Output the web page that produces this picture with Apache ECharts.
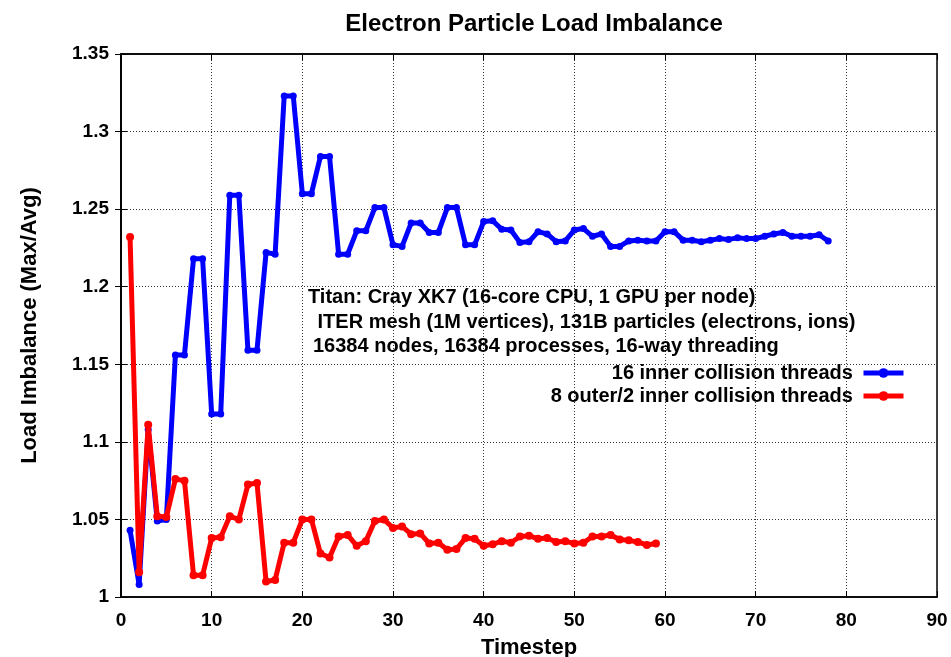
<!DOCTYPE html>
<html>
<head>
<meta charset="utf-8">
<script src="https://cdn.jsdelivr.net/npm/echarts@6/dist/echarts.min.js"></script>
<style>
html,body{margin:0;padding:0;background:#fff;}
#chart{width:951px;height:657px;}
</style>
</head>
<body>
<div id="chart"></div>
<script>
var titleText = 'Electron Particle Load Imbalance';
var xAxisName = 'Timestep';
var yAxisName = 'Load Imbalance (Max/Avg)';
var infoLines = [
  'Titan: Cray XK7 (16-core CPU, 1 GPU per node)',
  ' ITER mesh (1M vertices), 131B particles (electrons, ions)',
  '16384 nodes, 16384 processes, 16-way threading'
];
var seriesNames = ['16 inner collision threads', '8 outer/2 inner collision threads'];

var blueSteps = [1,2,3,4,5,6,7,8,9,10,11,12,13,14,15,16,17,18,19,20,21,22,23,24,25,26,27,28,29,30,31,32,33,34,35,36,37,38,39,40,41,42,43,44,45,46,47,48,49,50,51,52,53,54,55,56,57,58,59,60,61,62,63,64,65,66,67,68,69,70,71,72,73,74,75,76,77,78];
var blueValues = [1.043,1.008,1.108,1.049,1.050,1.156,1.156,1.218,1.218,1.118,1.118,1.259,1.259,1.159,1.159,1.222,1.221,1.323,1.323,1.260,1.260,1.284,1.284,1.221,1.221,1.236,1.236,1.251,1.251,1.227,1.226,1.241,1.241,1.235,1.235,1.251,1.251,1.227,1.227,1.242,1.2425,1.237,1.2365,1.2285,1.229,1.2355,1.234,1.229,1.2295,1.2365,1.2375,1.2325,1.234,1.226,1.226,1.2295,1.230,1.2295,1.2295,1.2355,1.2355,1.230,1.230,1.229,1.230,1.231,1.2305,1.2315,1.231,1.231,1.2325,1.234,1.235,1.2325,1.2325,1.2325,1.2335,1.2295];

var redSteps = [1,2,3,4,5,6,7,8,9,10,11,12,13,14,15,16,17,18,19,20,21,22,23,24,25,26,27,28,29,30,31,32,33,34,35,36,37,38,39,40,41,42,43,44,45,46,47,48,49,50,51,52,53,54,55,56,57,58,59];
var redValues = [1.232,1.016,1.111,1.052,1.0515,1.076,1.075,1.014,1.014,1.038,1.0385,1.052,1.050,1.0725,1.0735,1.010,1.011,1.035,1.035,1.050,1.050,1.028,1.0255,1.039,1.040,1.033,1.036,1.049,1.050,1.0445,1.0455,1.0405,1.041,1.0345,1.035,1.0305,1.031,1.038,1.0375,1.033,1.034,1.036,1.035,1.039,1.0395,1.0375,1.038,1.0355,1.036,1.0345,1.035,1.039,1.039,1.040,1.037,1.0365,1.0355,1.0335,1.0345];

function pairs(xs, ys){ return xs.map(function(x,i){ return [x, ys[i]]; }); }

var FONT = '"Liberation Sans", Arial, Helvetica, sans-serif';
var chart = echarts.init(document.getElementById('chart'), null, {renderer:'canvas'});

var gridLine = {show:true, lineStyle:{color:'#333', width:1, type:[1,2]}};
var legendText = {fontFamily:FONT, fontWeight:'bold', fontSize:20, color:'#000'};
var legendFmt = function(n){ return n + ' '; };

chart.setOption({
  animation:false,
  backgroundColor:'#fff',
  title:{
    text:titleText, left:529, top:7, textAlign:'center',
    textStyle:{fontFamily:FONT, fontWeight:'bold', fontSize:24, color:'#000'}
  },
  grid:{left:121, right:14, top:54, bottom:60, show:true, borderColor:'#000', borderWidth:1.5,
        backgroundColor:'transparent', containLabel:false, outerBoundsMode:'none'},
  legend:[
    {data:[seriesNames[0]], orient:'vertical', align:'right', right:45, top:363, itemWidth:40, itemHeight:12, itemGap:0, textStyle:legendText, padding:0, formatter:legendFmt, lineStyle:{width:5}, itemStyle:{borderWidth:0}},
    {data:[seriesNames[1]], orient:'vertical', align:'right', right:45, top:386, itemWidth:40, itemHeight:12, itemGap:0, textStyle:legendText, padding:0, formatter:legendFmt, lineStyle:{width:5}, itemStyle:{borderWidth:0}}
  ],
  xAxis:[
    {type:'value', min:0, max:90, interval:10, position:'bottom',
     name:xAxisName, nameLocation:'middle', nameGap:40,
     nameTextStyle:{fontFamily:FONT, fontWeight:'bold', fontSize:22, color:'#000'},
     axisLine:{show:true, lineStyle:{color:'#000', width:1.5}},
     axisTick:{show:true, inside:true, length:6, lineStyle:{color:'#000'}},
     axisLabel:{fontFamily:FONT, fontWeight:'bold', fontSize:19, color:'#000', margin:14},
     splitLine:gridLine},
    {type:'value', min:0, max:90, interval:10, position:'top',
     axisLine:{show:true, lineStyle:{color:'#000', width:1.5}},
     axisTick:{show:true, inside:true, length:6, lineStyle:{color:'#000'}},
     axisLabel:{show:false}, splitLine:{show:false}}
  ],
  yAxis:[
    {type:'value', min:1, max:1.35, interval:0.05, position:'left',
     name:yAxisName, nameLocation:'middle', nameGap:80,
     nameTextStyle:{fontFamily:FONT, fontWeight:'bold', fontSize:22, color:'#000'},
     axisLine:{show:true, lineStyle:{color:'#000', width:1.5}},
     axisTick:{show:true, inside:true, length:6, lineStyle:{color:'#000'}},
     axisLabel:{fontFamily:FONT, fontWeight:'bold', fontSize:19, color:'#000', margin:12},
     splitLine:gridLine},
    {type:'value', min:1, max:1.35, interval:0.05, position:'right',
     axisLine:{show:true, lineStyle:{color:'#000', width:1.5}},
     axisTick:{show:true, inside:true, length:6, lineStyle:{color:'#000'}},
     axisLabel:{show:false}, splitLine:{show:false}}
  ],
  graphic:infoLines.map(function(t,i){
    return {type:'text', left:[308,312,313][i], top:[287,312,336][i], z:100,
      style:{text:t, fontFamily:FONT, fontWeight:'bold', fontSize:20, fill:'#000'}};
  }),
  series:[
    {name:seriesNames[0], type:'line', data:pairs(blueSteps, blueValues),
     xAxisIndex:0, yAxisIndex:0,
     symbol:'circle', symbolSize:7, showSymbol:true,
     lineStyle:{color:'#0000ff', width:5}, itemStyle:{color:'#0000ff'}, z:2},
    {name:seriesNames[1], type:'line', data:pairs(redSteps, redValues),
     xAxisIndex:0, yAxisIndex:0,
     symbol:'circle', symbolSize:8, showSymbol:true,
     lineStyle:{color:'#ff0000', width:5}, itemStyle:{color:'#ff0000'}, z:3}
  ]
});
</script>
</body>
</html>
